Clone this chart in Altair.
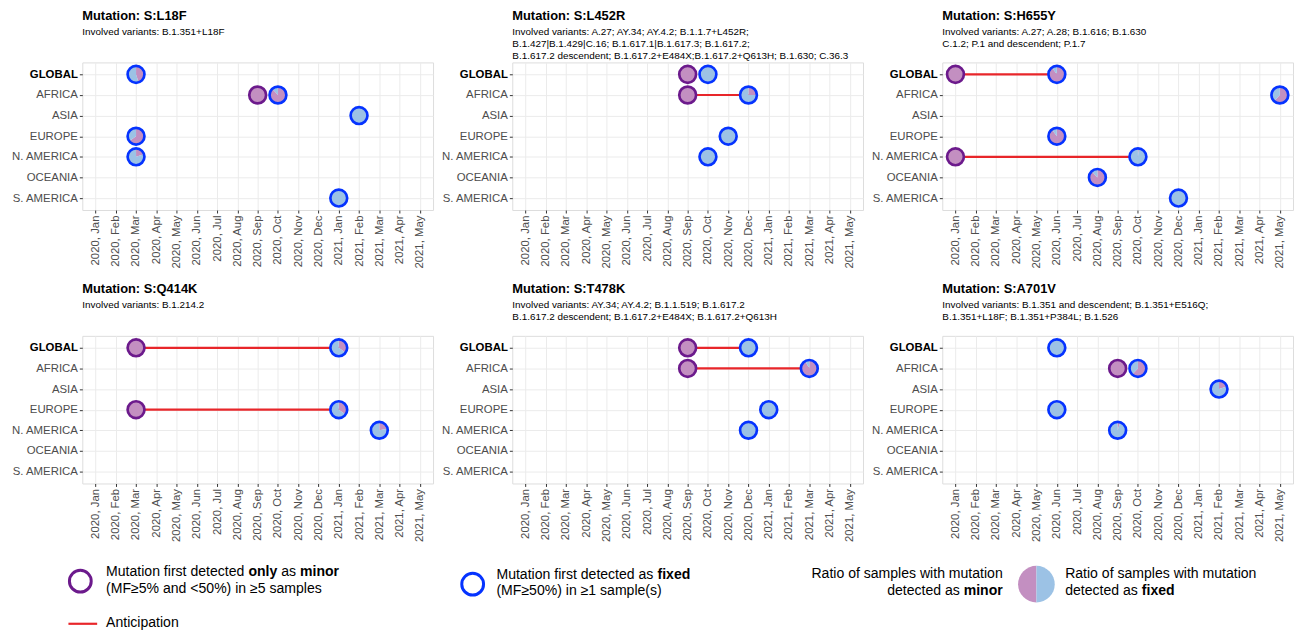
import altair as alt
import pandas as pd

# ---------------- data ----------------
REGIONS = ["GLOBAL", "AFRICA", "ASIA", "EUROPE", "N. AMERICA", "OCEANIA", "S. AMERICA"]
MONTHS = ["2020, Jan", "2020, Feb", "2020, Mar", "2020, Apr", "2020, May", "2020, Jun",
          "2020, Jul", "2020, Aug", "2020, Sep", "2020, Oct", "2020, Nov", "2020, Dec",
          "2021, Jan", "2021, Feb", "2021, Mar", "2021, Apr", "2021, May"]
MUTATIONS = ["S:L18F", "S:L452R", "S:H655Y", "S:Q414K", "S:T478K", "S:A701V"]
VARIANTS = [
    ["Involved variants: B.1.351+L18F"],
    ["Involved variants: A.27; AY.34; AY.4.2; B.1.1.7+L452R;",
     "B.1.427|B.1.429|C.16; B.1.617.1|B.1.617.3; B.1.617.2;",
     "B.1.617.2 descendent; B.1.617.2+E484X;B.1.617.2+Q613H; B.1.630; C.36.3"],
    ["Involved variants: A.27; A.28; B.1.616; B.1.630",
     "C.1.2; P.1 and descendent; P.1.7"],
    ["Involved variants: B.1.214.2"],
    ["Involved variants: AY.34; AY.4.2; B.1.1.519; B.1.617.2",
     "B.1.617.2 descendent; B.1.617.2+E484X; B.1.617.2+Q613H"],
    ["Involved variants: B.1.351 and descendent; B.1.351+E516Q;",
     "B.1.351+L18F; B.1.351+P384L; B.1.526"],
]

# first detection as fixed: (mutation, region, month, ratio of samples with mutation as minor)
FIXED = [
    ("S:L18F", "GLOBAL", "2020, Mar", 0.45),
    ("S:L18F", "AFRICA", "2020, Oct", 0.88),
    ("S:L18F", "ASIA", "2021, Feb", 0.0),
    ("S:L18F", "EUROPE", "2020, Mar", 0.65),
    ("S:L18F", "N. AMERICA", "2020, Mar", 0.2),
    ("S:L18F", "S. AMERICA", "2021, Jan", 0.0),
    ("S:L452R", "GLOBAL", "2020, Oct", 0.0),
    ("S:L452R", "AFRICA", "2020, Dec", 0.25),
    ("S:L452R", "EUROPE", "2020, Nov", 0.0),
    ("S:L452R", "N. AMERICA", "2020, Oct", 0.0),
    ("S:H655Y", "GLOBAL", "2020, Jun", 0.9),
    ("S:H655Y", "AFRICA", "2021, May", 0.62),
    ("S:H655Y", "EUROPE", "2020, Jun", 0.9),
    ("S:H655Y", "N. AMERICA", "2020, Oct", 0.02),
    ("S:H655Y", "OCEANIA", "2020, Aug", 0.88),
    ("S:H655Y", "S. AMERICA", "2020, Dec", 0.0),
    ("S:Q414K", "GLOBAL", "2021, Jan", 0.35),
    ("S:Q414K", "EUROPE", "2021, Jan", 0.35),
    ("S:Q414K", "N. AMERICA", "2021, Mar", 0.22),
    ("S:T478K", "GLOBAL", "2020, Dec", 0.0),
    ("S:T478K", "AFRICA", "2021, Mar", 0.92),
    ("S:T478K", "EUROPE", "2021, Jan", 0.0),
    ("S:T478K", "N. AMERICA", "2020, Dec", 0.0),
    ("S:A701V", "GLOBAL", "2020, Jun", 0.0),
    ("S:A701V", "AFRICA", "2020, Oct", 0.62),
    ("S:A701V", "ASIA", "2021, Feb", 0.2),
    ("S:A701V", "EUROPE", "2020, Jun", 0.0),
    ("S:A701V", "N. AMERICA", "2020, Sep", 0.05),
]

# first detection only as minor: (mutation, region, month)
MINOR = [
    ("S:L18F", "AFRICA", "2020, Sep"),
    ("S:L452R", "GLOBAL", "2020, Sep"),
    ("S:L452R", "AFRICA", "2020, Sep"),
    ("S:H655Y", "GLOBAL", "2020, Jan"),
    ("S:H655Y", "N. AMERICA", "2020, Jan"),
    ("S:Q414K", "GLOBAL", "2020, Mar"),
    ("S:Q414K", "EUROPE", "2020, Mar"),
    ("S:T478K", "GLOBAL", "2020, Sep"),
    ("S:T478K", "AFRICA", "2020, Sep"),
    ("S:A701V", "AFRICA", "2020, Sep"),
]

# anticipation segments: (mutation, region, from month, to month)
ANTICIPATION = [
    ("S:L452R", "AFRICA", "2020, Sep", "2020, Dec"),
    ("S:H655Y", "GLOBAL", "2020, Jan", "2020, Jun"),
    ("S:H655Y", "N. AMERICA", "2020, Jan", "2020, Oct"),
    ("S:Q414K", "GLOBAL", "2020, Mar", "2021, Jan"),
    ("S:Q414K", "EUROPE", "2020, Mar", "2021, Jan"),
    ("S:T478K", "GLOBAL", "2020, Sep", "2020, Dec"),
    ("S:T478K", "AFRICA", "2020, Sep", "2021, Mar"),
]

# ---------------- style ----------------
FONT = "Liberation Sans"
PURPLE_FILL = "#c38fc1"
BLUE_FILL = "#9cc2e5"
PURPLE_EDGE = "#6c1a8c"
BLUE_EDGE = "#0533ff"
RED = "#e8262a"
AX_FS = 11.5

fixed_df = pd.DataFrame(FIXED, columns=["mutation", "region", "month", "minor"])
minor_df = pd.DataFrame(MINOR, columns=["mutation", "region", "month"])
antic_df = pd.DataFrame(ANTICIPATION, columns=["mutation", "region", "m_from", "m_to"])
pie_rows = []
for m, r, mo, f in FIXED:
    pie_rows.append(dict(mutation=m, region=r, month=mo, part="minor", t0=0.0, t1=f))
    pie_rows.append(dict(mutation=m, region=r, month=mo, part="fixed", t0=f, t1=1.0))
pie_df = pd.DataFrame(pie_rows)

PW, PH = 354, 149


def panel(i):
    mut = MUTATIONS[i]
    sub = VARIANTS[i] + [" "] * (3 - len(VARIANTS[i]))
    xs = alt.Scale(type="point", domain=MONTHS, padding=0.65)
    ys = alt.Scale(type="point", domain=REGIONS, padding=0.58)
    xaxis = alt.Axis(title=None, labelAngle=270, labelAlign="right", labelBaseline="middle",
                     labelFontSize=AX_FS, labelColor="#4d4d4d", labelFont=FONT, labelPadding=2,
                     tickSize=3, tickColor="#333333", domain=False, grid=True,
                     gridColor="#ebebeb", gridWidth=1, labelOverlap=False)
    yaxis = alt.Axis(title=None, labelFontSize=AX_FS, labelFont=FONT,
                     labelColor={"expr": "datum.value == 'GLOBAL' ? '#000000' : '#4d4d4d'"},
                     labelFontWeight={"expr": "datum.value == 'GLOBAL' ? 'bold' : 'normal'"},
                     labelPadding=2, tickSize=3, tickColor="#333333", domain=False, grid=True,
                     gridColor="#ebebeb", gridWidth=1, minExtent=74, maxExtent=74)

    def X(f):
        return alt.X(f, type="ordinal", scale=xs, axis=xaxis)

    def Y(f):
        return alt.Y(f, type="ordinal", scale=ys, axis=yaxis)

    rule = alt.Chart(antic_df[antic_df.mutation == mut]).mark_rule(
        color=RED, strokeWidth=2.2).encode(x=X("m_from"), x2="m_to", y=Y("region"))
    minor_pts = alt.Chart(minor_df[minor_df.mutation == mut]).mark_point(
        shape="circle", filled=True, size=289, fill=PURPLE_FILL, stroke=PURPLE_EDGE,
        strokeWidth=2.7, opacity=1).encode(x=X("month"), y=Y("region"))
    pies = alt.Chart(pie_df[pie_df.mutation == mut]).mark_arc(radius=8.5).encode(
        x=X("month"), y=Y("region"),
        theta=alt.Theta("t0:Q", scale=alt.Scale(domain=[0, 1], range=[0, 6.283185])),
        theta2="t1:Q",
        color=alt.Color("part:N", scale=alt.Scale(domain=["minor", "fixed"],
                                                  range=[PURPLE_FILL, BLUE_FILL]), legend=None))
    outlines = alt.Chart(fixed_df[fixed_df.mutation == mut]).mark_point(
        shape="circle", filled=False, size=289, color=BLUE_EDGE, strokeWidth=2.7,
        opacity=1).encode(x=X("month"), y=Y("region"))
    title = alt.TitleParams(text=f"Mutation: {mut}", subtitle=sub, anchor="start", frame="group",
                            font=FONT, fontSize=13, fontWeight="bold", color="#000000",
                            subtitleFont=FONT, subtitleFontSize=10, subtitleColor="#000000",
                            subtitleLineHeight=12, subtitlePadding=4, offset=0)
    return alt.layer(rule, minor_pts, pies, outlines).properties(width=PW, height=PH, title=title)


# ---------------- legend (origin is aligned with the first plot's left edge) ----------------
one = pd.DataFrame({"k": [0]})
LF = 14.2
DY = 2  # compensates the top padding shift


def txt(s, x, y, bold=False, align="left"):
    return alt.Chart(one).mark_text(text=s, align=align, baseline="middle", font=FONT,
                                    fontSize=LF, fontWeight="bold" if bold else "normal",
                                    color="#000000").encode(x=alt.value(x), y=alt.value(y + DY))


legend_layers = [
    alt.Chart(one).mark_point(shape="circle", filled=False, size=484, color=PURPLE_EDGE,
                              strokeWidth=3, opacity=1).encode(x=alt.value(-2), y=alt.value(22.6 + DY)),
    txt("Mutation first detected", 24, 13.6), txt("only", 167.65, 13.6, True),
    txt("as", 200.8, 13.6), txt("minor", 219.75, 13.6, True),
    txt("(MF≥5% and <50%) in ≥5 samples", 24, 30.6),
    alt.Chart(one).mark_point(shape="circle", filled=False, size=484, color=BLUE_EDGE,
                              strokeWidth=3, opacity=1).encode(x=alt.value(394), y=alt.value(25.6 + DY)),
    txt("Mutation first detected as", 418, 16.6), txt("fixed", 580.6, 16.6, True),
    txt("(MF≥50%) in ≥1 sample(s)", 418, 32.6),
    alt.Chart(one).mark_arc(radius=18.5, theta=3.14159, theta2=6.28318, color=PURPLE_FILL).encode(
        x=alt.value(963), y=alt.value(25.6 + DY)),
    alt.Chart(one).mark_arc(radius=18.5, theta=0, theta2=3.14159, color=BLUE_FILL).encode(
        x=alt.value(963), y=alt.value(25.6 + DY)),
    txt("Ratio of samples with mutation", 929, 15.6, align="right"),
    txt("detected as", 885.65, 32.6, align="right"), txt("minor", 929, 32.6, True, align="right"),
    txt("Ratio of samples with mutation", 992, 15.6),
    txt("detected as", 992, 32.6), txt("fixed", 1069.4, 32.6, True),
    alt.Chart(one).mark_rule(color=RED, strokeWidth=2.2).encode(
        x=alt.value(-14), x2=alt.value(15), y=alt.value(65.6 + DY)),
    txt("Anticipation", 24, 64.6),
]
legend = alt.layer(*legend_layers).properties(
    width=1200, height=70, view=alt.ViewBackground(stroke="transparent"))

row1 = alt.hconcat(panel(0), panel(1), panel(2), spacing=4)
row2 = alt.hconcat(panel(3), panel(4), panel(5), spacing=4)

chart = alt.vconcat(row1, row2, legend, spacing=13).properties(
    padding={"left": 0, "top": -2, "right": 0, "bottom": 0}).configure_view(
    stroke="#333333", strokeWidth=1).configure(background="white")

chart.save("out.html", embed_options={"renderer": "svg", "actions": False})
